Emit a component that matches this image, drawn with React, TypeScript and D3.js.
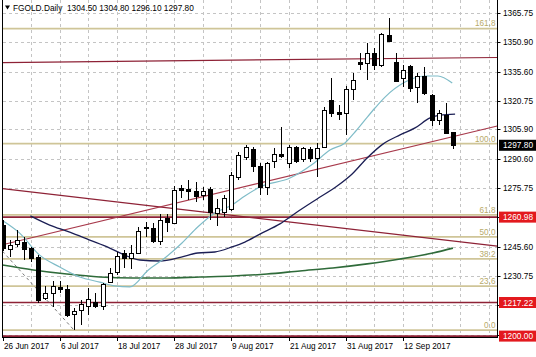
import React, { useEffect, useRef } from "react";
import * as d3 from "d3";

const W = 536;
const H = 357;

// OHLC per daily bar (26 Jun 2017 .. 21 Sep 2017)
const opens = [1257.0, 1244.5, 1247.0, 1248.4, 1245.0, 1240.7, 1219.3, 1222.2, 1225.3, 1224.0, 1211.1, 1213.4, 1215.4, 1217.6, 1215.4, 1227.9, 1232.8, 1242.4, 1239.8, 1242.8, 1255.7, 1255.2, 1248.9, 1260.3, 1258.1, 1276.1, 1275.4, 1274.5, 1272.3, 1275.2, 1262.9, 1263.5, 1265.0, 1281.7, 1291.9, 1295.7, 1287.2, 1276.6, 1289.9, 1293.3, 1288.5, 1296.7, 1290.6, 1295.9, 1291.1, 1296.7, 1321.0, 1315.0, 1314.2, 1326.5, 1340.6, 1339.8, 1344.9, 1338.9, 1354.3, 1340.6, 1332.1, 1338.4, 1327.8, 1333.5, 1323.6, 1310.7, 1313.3, 1304.5];
const highs = [1259.5, 1249.2, 1254.4, 1251.0, 1245.8, 1241.5, 1225.7, 1228.4, 1228.2, 1226.2, 1214.2, 1218.5, 1224.5, 1221.9, 1227.0, 1234.7, 1243.2, 1244.1, 1246.7, 1256.1, 1258.6, 1257.8, 1262.6, 1262.6, 1276.9, 1277.4, 1280.0, 1279.1, 1276.6, 1276.6, 1270.1, 1272.3, 1284.3, 1294.5, 1297.9, 1296.7, 1288.5, 1289.4, 1296.2, 1307.0, 1297.9, 1297.4, 1297.1, 1297.1, 1298.8, 1317.6, 1332.1, 1318.4, 1328.2, 1334.6, 1345.3, 1350.0, 1347.5, 1355.2, 1362.9, 1344.9, 1338.9, 1338.9, 1334.7, 1338.1, 1324.1, 1315.9, 1319.3, 1304.8];
const lows = [1243.5, 1240.7, 1245.8, 1239.0, 1238.1, 1216.8, 1218.5, 1215.1, 1221.9, 1210.0, 1203.1, 1205.7, 1210.8, 1214.2, 1213.4, 1227.0, 1231.3, 1234.7, 1234.2, 1242.4, 1250.9, 1247.9, 1246.7, 1253.5, 1257.8, 1270.6, 1269.7, 1268.9, 1269.7, 1259.5, 1256.4, 1261.2, 1264.0, 1280.0, 1290.2, 1284.3, 1272.3, 1272.3, 1286.0, 1291.1, 1286.0, 1288.5, 1289.4, 1289.4, 1281.7, 1296.2, 1312.5, 1310.7, 1303.0, 1321.0, 1336.4, 1331.2, 1336.4, 1338.0, 1350.9, 1330.4, 1327.8, 1325.3, 1319.3, 1323.6, 1307.7, 1308.2, 1303.9, 1296.1];
const closes = [1245.0, 1246.7, 1249.2, 1244.5, 1239.8, 1218.5, 1222.2, 1225.7, 1224.0, 1210.8, 1212.8, 1216.3, 1218.8, 1215.4, 1226.5, 1232.5, 1241.1, 1239.8, 1242.8, 1253.8, 1255.2, 1248.9, 1259.5, 1258.6, 1274.9, 1274.9, 1274.5, 1271.8, 1274.3, 1263.8, 1265.5, 1270.6, 1282.5, 1292.8, 1297.1, 1287.2, 1276.6, 1288.5, 1293.3, 1292.3, 1297.1, 1289.9, 1296.2, 1291.1, 1296.2, 1315.9, 1314.2, 1313.8, 1326.5, 1331.2, 1339.4, 1344.9, 1338.9, 1354.8, 1351.4, 1330.9, 1336.4, 1327.0, 1333.5, 1324.4, 1310.7, 1314.5, 1304.2, 1297.8];

const dateLabels = ["26 Jun 2017", "6 Jul 2017", "18 Jul 2017", "28 Jul 2017", "9 Aug 2017", "21 Aug 2017", "31 Aug 2017", "12 Sep 2017"];
const dateLabelBars = [0, 8, 16, 24, 32, 40, 48, 56];

const priceTicks = [1365.75, 1350.9, 1335.6, 1320.75, 1305.9, 1290.6, 1275.75, 1260.9, 1245.6, 1230.75, 1215.9, 1200.6];

const fibLow = 1203.1;
const fibHigh = 1298.6;
const fibLevels = [0, 23.6, 38.2, 50, 61.8, 100, 161.8];

const redLevels = [1260.98, 1217.22, 1200.0];
const lastPrice = 1297.8;
const header = { symbol: "FGOLD.Daily", o: "1304.50", h: "1304.80", l: "1296.10", c: "1297.80" };

// moving averages read as [bar, price]
const maFast: [number, number][] = [[0.1, 1259.0], [2.4, 1252.8], [5.2, 1241.5], [8.0, 1235.4], [10.8, 1230.3], [13.6, 1227.7], [15.7, 1225.7], [17.8, 1225.2], [20.4, 1233.9], [22.7, 1240.0], [25.1, 1247.7], [27.3, 1255.9], [29.7, 1263.1], [32.1, 1267.2], [33.9, 1271.8], [36.0, 1276.4], [40.2, 1281.0], [43.4, 1288.2], [45.8, 1295.4], [47.9, 1299.0], [49.3, 1304.6], [50.7, 1310.8], [52.1, 1316.9], [53.5, 1322.5], [56.3, 1330.2], [59.1, 1333.3], [60.9, 1333.3], [62.9, 1329.7]];
const maMid: [number, number][] = [[3.9, 1261.6], [6.6, 1256.9], [9.4, 1253.3], [12.2, 1249.2], [15.0, 1245.1], [17.1, 1241.5], [19.2, 1239.0], [22.0, 1238.5], [25.0, 1240.5], [27.3, 1242.6], [29.7, 1243.1], [32.1, 1245.7], [33.9, 1248.2], [36.0, 1252.3], [38.8, 1257.5], [41.2, 1263.6], [44.0, 1270.3], [46.8, 1276.9], [48.9, 1283.1], [51.0, 1291.3], [53.2, 1298.4], [55.6, 1303.1], [57.7, 1306.7], [59.8, 1311.8], [61.2, 1313.3], [63.3, 1313.8]];
const maSlow: [number, number][] = [[0, 1236.4], [4.3, 1233.9], [9.0, 1231.8], [13.6, 1230.3], [18.3, 1229.8], [23.0, 1229.8], [27.6, 1230.3], [32.2, 1230.8], [37.0, 1231.8], [41.6, 1233.4], [46.2, 1234.9], [51.0, 1237.0], [55.6, 1239.5], [60.2, 1242.6], [63.0, 1245.1]];

// trend lines [bar, price] endpoints
const trendTop: [number, number][] = [[0, 1340.2], [69.2, 1342.8]];
const trendDown: [number, number][] = [[0, 1275.6], [69.2, 1246.1]];
const trendUp: [number, number][] = [[0, 1246.8], [69.2, 1307.7]];
const fibTrend: [number, number][] = [[0, 1243.5], [10, 1203.1]];

export default function App() {
  const ref = useRef<SVGSVGElement>(null);

  useEffect(() => {
    const svg = d3.select(ref.current);
    svg.selectAll("*").remove();
    const font = "'Liberation Sans', Arial, sans-serif";

    const pL = 2.5, pR = 497.5, pT = 0, pB = 337.5;
    const x = d3.scaleLinear().domain([0, 63]).range([2.5, 2.5 + 63 * 7.15]);
    const y = d3.scaleLinear().domain([1200, 1365.75]).range([336.1, 12.7]);
    const half = (v: number) => Math.round(v) + 0.5;

    svg.append("rect").attr("width", W).attr("height", H).attr("fill", "#ffffff");

    svg.append("defs").append("clipPath").attr("id", "plotclip")
      .append("rect").attr("x", pL).attr("y", pT).attr("width", pR - pL).attr("height", pB - pT);

    const plot = svg.append("g").attr("clip-path", "url(#plotclip)");

    // grid
    const grid = plot.append("g").attr("stroke", "#c4c4c4").attr("stroke-dasharray", "3,3").attr("shape-rendering", "crispEdges");
    priceTicks.forEach((p) => {
      grid.append("line").attr("x1", pL).attr("x2", pR).attr("y1", half(y(p))).attr("y2", half(y(p)));
    });
    for (let b = 4; x(b) < pR; b += 4) {
      grid.append("line").attr("x1", half(x(b))).attr("x2", half(x(b))).attr("y1", pT).attr("y2", pB);
    }

    // fib levels
    const fibPrice = (r: number) => fibLow + (r / 100) * (fibHigh - fibLow);
    fibLevels.forEach((r) => {
      const yy = y(fibPrice(r));
      plot.append("line").attr("x1", pL).attr("x2", pR).attr("y1", yy).attr("y2", yy)
        .attr("stroke", "#cfc598").attr("stroke-width", 1.8);
      plot.append("text").attr("x", 495.5).attr("y", yy - 2.2).attr("text-anchor", "end")
        .attr("font-family", font).attr("font-size", 8.2).attr("fill", "#b8aa6a").text(r.toFixed(1));
    });

    // red horizontal levels
    redLevels.forEach((p) => {
      plot.append("line").attr("x1", pL).attr("x2", pR).attr("y1", y(p)).attr("y2", y(p))
        .attr("stroke", "#8e2236").attr("stroke-width", 1.6);
    });

    const seg = d3.line<[number, number]>().x((d) => x(d[0])).y((d) => y(d[1]));
    [trendTop, trendDown].forEach((t) => {
      plot.append("path").attr("d", seg(t)).attr("fill", "none").attr("stroke", "#8e2236").attr("stroke-width", 1.2);
    });
    plot.append("path").attr("d", seg(trendUp)).attr("fill", "none").attr("stroke", "#a83a4c").attr("stroke-width", 1.2);
    plot.append("path").attr("d", seg(fibTrend)).attr("fill", "none").attr("stroke", "#777777")
      .attr("stroke-width", 1).attr("stroke-dasharray", "3,3");

    // moving averages
    const ma = d3.line<[number, number]>().x((d) => x(d[0])).y((d) => y(d[1])).curve(d3.curveMonotoneX);
    plot.append("path").attr("d", ma(maSlow)).attr("fill", "none").attr("stroke", "#2f6b3a").attr("stroke-width", 1.6);
    plot.append("path").attr("d", ma(maMid)).attr("fill", "none").attr("stroke", "#1c1f55").attr("stroke-width", 1.3);
    plot.append("path").attr("d", ma(maFast)).attr("fill", "none").attr("stroke", "#7fbcc8").attr("stroke-width", 1.2);

    // candles
    const cg = plot.append("g").attr("shape-rendering", "crispEdges");
    opens.forEach((o, i) => {
      const c = closes[i];
      const cx = half(x(i));
      cg.append("line").attr("x1", cx).attr("x2", cx).attr("y1", Math.round(y(highs[i]))).attr("y2", Math.round(y(lows[i])))
        .attr("stroke", "#000").attr("stroke-width", 1);
      const top = Math.round(y(Math.max(o, c))) + 0.5;
      const bot = Math.round(y(Math.min(o, c))) + 0.5;
      cg.append("rect").attr("x", cx - 2).attr("y", top).attr("width", 4).attr("height", Math.max(0, bot - top))
        .attr("fill", c < o ? "#000" : "#fff").attr("stroke", "#000").attr("stroke-width", 1);
    });

    // frame
    const fr = svg.append("g").attr("stroke", "#000").attr("shape-rendering", "crispEdges");
    fr.append("line").attr("x1", pL).attr("x2", pL).attr("y1", pT).attr("y2", pB);
    fr.append("line").attr("x1", pR).attr("x2", pR).attr("y1", pT).attr("y2", pB);
    fr.append("line").attr("x1", pL).attr("x2", pR).attr("y1", pB).attr("y2", pB);

    // price axis
    priceTicks.forEach((p) => {
      const yy = y(p);
      svg.append("line").attr("x1", pR).attr("x2", pR + 3).attr("y1", half(yy)).attr("y2", half(yy)).attr("stroke", "#000");
      svg.append("text").attr("x", 503).attr("y", yy + 3).attr("font-family", font).attr("font-size", 8.3)
        .attr("fill", "#000").text(p.toFixed(2));
    });
    const box = (p: number, fill: string) => {
      const yy = y(p);
      svg.append("rect").attr("x", 499).attr("y", yy - 5.5).attr("width", 37).attr("height", 11).attr("fill", fill);
      svg.append("text").attr("x", 503).attr("y", yy + 3).attr("font-family", font).attr("font-size", 8.3)
        .attr("fill", "#fff").text(p.toFixed(2));
    };
    redLevels.forEach((p) => box(p, "#e3191e"));
    box(lastPrice, "#000");

    // date axis
    dateLabelBars.forEach((b, k) => {
      const xx = half(x(b));
      svg.append("line").attr("x1", xx).attr("x2", xx).attr("y1", pB).attr("y2", pB + 3.5).attr("stroke", "#000");
      svg.append("text").attr("x", xx + 0.5).attr("y", 348.5).attr("font-family", font).attr("font-size", 8.2)
        .attr("fill", "#000").text(dateLabels[k]);
    });

    // header
    svg.append("path").attr("d", "M5,5.5 L10,5.5 L7.5,9.5 Z").attr("fill", "#000");
    svg.append("text").attr("x", 13).attr("y", 10.7).attr("font-family", font).attr("font-size", 8.3)
      .attr("fill", "#000").style("white-space", "pre")
      .text(`${header.symbol}  ${header.o} ${header.h} ${header.l} ${header.c}`);
  }, []);

  return (
    <svg ref={ref} width={W} height={H} style={{ position: "absolute", left: 0, top: 0, display: "block" }} />
  );
}
